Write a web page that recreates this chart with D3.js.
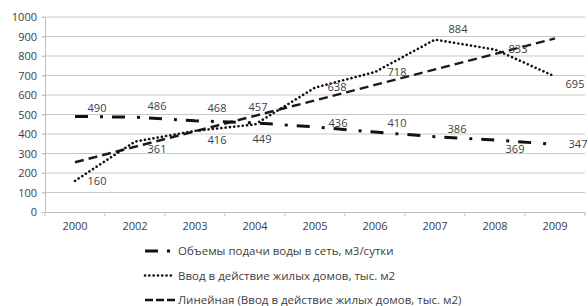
<!DOCTYPE html>
<html>
<head>
<meta charset="utf-8">
<script src="https://cdnjs.cloudflare.com/ajax/libs/d3/7.8.5/d3.min.js"></script>
<style>
  body { margin: 0; background: #fff; }
  svg text { font-family: "Open Sans", "Noto Sans", sans-serif; fill: #404040; }
</style>
</head>
<body>
<div class="plot"></div>
<script>
// chart data
const years = ["2000", "2002", "2003", "2004", "2005", "2006", "2007", "2008", "2009"]
const water = [490, 486, 468, 457, 436, 410, 386, 369, 347]
const housing = [160, 361, 416, 449, 638, 718, 884, 833, 695]
const yTicks = [0, 100, 200, 300, 400, 500, 600, 700, 800, 900, 1000]
const legendNames = [
  "Объемы подачи воды в сеть, м3/сутки",
  "Ввод в действие жилых домов, тыс. м2",
  "Линейная (Ввод в действие жилых домов, тыс. м2)"
]

// label offsets (style only), dx/dy in px relative to the point
const waterLabelDy = [-8, -11, -13, -16, -4, -9, -8, 9, 0]
const waterLabelDx = [22, 22, 22, 3, 23, 22, 22, 20, 23]
const housingLabelDy = [0, 8, 9, 15, 0, 0, -10, 0, 8]
const housingLabelDx = [22, 22, 22, 7, 22, 22, 23, 23, 20]

let margin = {left: 45, right: 3, top: 17, bottom: 94},
    W = 588, H = 306,
    width = W - margin.left - margin.right,
    height = H - margin.top - margin.bottom

let svg = d3.select(".plot").append("svg")
  .attr("width", W).attr("height", H)
let g = svg.append("g")
  .attr("transform", "translate(" + margin.left + "," + margin.top + ")")

let x = d3.scaleBand().domain(years).range([0, width])
let y = d3.scaleLinear().domain([0, 1000]).range([height, 0])
let cx = d => x(d) + x.bandwidth() / 2

// gridlines
g.append("g").selectAll("line")
  .data(yTicks.filter(t => t > 0))
  .enter().append("line")
  .attr("x1", -3).attr("x2", width)
  .attr("y1", d => y(d)).attr("y2", d => y(d))
  .attr("stroke", "#c8c8c8").attr("stroke-width", 1)

// y axis
let yAxis = g.append("g")
  .call(d3.axisLeft(y).tickValues(yTicks).tickFormat(d3.format("d")).tickSize(3).tickPadding(5))
yAxis.select(".domain").attr("stroke", "#bfbfbf")
yAxis.selectAll(".tick line").attr("stroke", "#bfbfbf")
yAxis.selectAll("text").style("font-size", "11px").attr("fill", "#404040")

// x axis
let xAxis = g.append("g")
  .attr("transform", "translate(0," + height + ")")
  .call(d3.axisBottom(x).tickSize(0).tickPadding(10))
xAxis.select(".domain").attr("stroke", "#bfbfbf")
xAxis.selectAll("text").style("font-size", "11px").attr("fill", "#404040")
// tick marks between categories
g.append("g").selectAll("line")
  .data(d3.range(years.length + 1))
  .enter().append("line")
  .attr("x1", i => i * x.step()).attr("x2", i => i * x.step())
  .attr("y1", height).attr("y2", height + 4)
  .attr("stroke", "#bfbfbf")

// linear trend of housing
let n = housing.length
let xs = d3.range(1, n + 1)
let mx = d3.mean(xs), my = d3.mean(housing)
let slope = d3.sum(xs, (v, i) => (v - mx) * (housing[i] - my)) / d3.sum(xs, v => (v - mx) * (v - mx))
let icpt = my - slope * mx
let trend = xs.map(v => icpt + slope * v)

let line = d3.line().x((d, i) => cx(years[i])).y(d => y(d))

const styles = [
  {dash: "13,12,3,9", w: 3, cap: "butt"},
  {dash: "0.1,4.2", w: 2.6, cap: "round"},
  {dash: "9,5", w: 2.4, cap: "butt"}
]

g.append("path").datum(trend).attr("d", line)
  .attr("fill", "none").attr("stroke", "#1a1a1a")
  .attr("stroke-width", styles[2].w).attr("stroke-dasharray", styles[2].dash)

g.append("path").datum(water).attr("d", line)
  .attr("fill", "none").attr("stroke", "#111")
  .attr("stroke-width", styles[0].w).attr("stroke-dasharray", styles[0].dash)

g.append("path").datum(housing).attr("d", line)
  .attr("fill", "none").attr("stroke", "#111")
  .attr("stroke-width", styles[1].w).attr("stroke-dasharray", styles[1].dash)
  .attr("stroke-linecap", styles[1].cap)

// data labels
function labels(data, dxs, dys) {
  g.append("g").selectAll("text")
    .data(data).enter().append("text")
    .attr("x", (d, i) => cx(years[i]) + dxs[i])
    .attr("y", (d, i) => y(d) + dys[i])
    .attr("dy", "0.35em")
    .attr("text-anchor", "middle")
    .style("font-size", "11px")
    .text(d => d)
}
labels(water, waterLabelDx, waterLabelDy)
labels(housing, housingLabelDx, housingLabelDy)

// legend
let legend = svg.append("g").selectAll("g")
  .data(legendNames).enter().append("g")
  .attr("transform", (d, i) => "translate(145," + (251 + i * 24.5) + ")")
legend.append("line")
  .attr("x1", 0).attr("x2", (d, i) => i == 0 ? 26 : 30).attr("y1", 0).attr("y2", 0)
  .attr("stroke", "#111")
  .attr("stroke-width", (d, i) => styles[i].w)
  .attr("stroke-dasharray", (d, i) => i == 0 ? "13,9,3,20" : i == 1 ? "0.1,4.2" : "8,3")
  .attr("stroke-linecap", (d, i) => styles[i].cap)
legend.append("text")
  .attr("x", 33).attr("y", 0).attr("dy", "0.35em")
  .style("font-size", "11.5px")
  .text(d => d)
</script>
</body>
</html>
